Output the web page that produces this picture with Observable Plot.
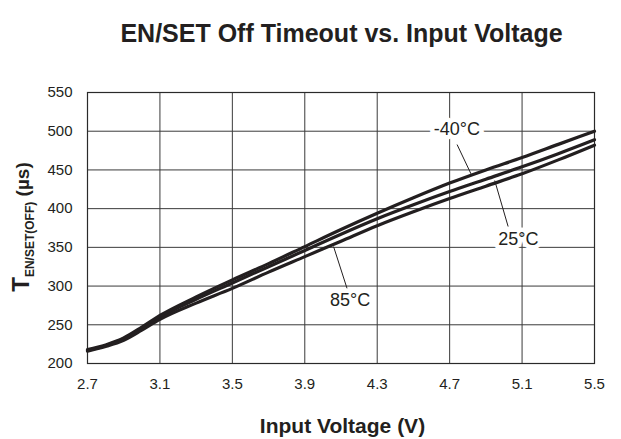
<!DOCTYPE html>
<html>
<head>
<meta charset="utf-8">
<script src="https://cdn.jsdelivr.net/npm/d3@7"></script>
<script src="https://cdn.jsdelivr.net/npm/@observablehq/plot@0.6"></script>
<style>
  html, body { margin: 0; padding: 0; background: #fff; }
  #wrap { position: relative; width: 621px; height: 439px; overflow: hidden; font-family: "Liberation Sans", Arial, sans-serif; color: #231f20; }
  #title { position: absolute; left: 0; width: 621px; top: 18px; text-align: center; padding-left: 62px; box-sizing: border-box; font-weight: bold; font-size: 25px; line-height: 30px; }
  #chart { position: absolute; left: 0; top: 70px; }
  #xlabel { position: absolute; left: 0; width: 621px; top: 413px; text-align: center; padding-left: 64px; box-sizing: border-box; font-weight: bold; font-size: 21px; line-height: 26px; }
  #ylabel { position: absolute; left: 25px; top: 227px; transform: translate(-50%, -50%) rotate(-90deg); white-space: nowrap; font-weight: bold; font-size: 19px; line-height: 24px; }
  #ylabel .t { font-size: 24px; }
  #ylabel sub { font-size: 12px; vertical-align: -5px; }
</style>
</head>
<body>
<div id="wrap">
  <div id="title">EN/SET Off Timeout vs. Input Voltage</div>
  <div id="chart"></div>
  <div id="xlabel">Input Voltage (V)</div>
  <div id="ylabel"><span class="t">T</span><sub>EN/SET(OFF)</sub> (µs)</div>
</div>
<script>
// Data
const voltage  = [2.7, 2.8, 2.9, 3.0, 3.1, 3.3, 3.5, 3.7, 3.9, 4.1, 4.3, 4.5, 4.7, 4.9, 5.1, 5.3, 5.5];
const tMinus40 = [218, 224, 233, 247, 262, 286, 308, 329, 351, 373, 394, 414, 433, 450, 466, 483, 500];
const t25      = [217, 223, 232, 245, 260, 283, 304, 325, 346, 367, 387, 405, 422, 438, 454, 471, 489];
const t85      = [216, 222, 230, 243, 257, 278, 297, 318, 338, 358, 378, 396, 413, 429, 445, 463, 482];
const seriesNames = ["-40°C", "25°C", "85°C"];
const xTicks = [2.7, 3.1, 3.5, 3.9, 4.3, 4.7, 5.1, 5.5];
const yTicks = [200, 250, 300, 350, 400, 450, 500, 550];

// Callout labels and their leader lines (data coordinates)
const labelText = ["-40°C", "25°C", "85°C"];
const labelX = [4.74, 5.08, 4.15];
const labelY = [502, 361, 282];
const leaderX1 = [4.741, 4.949, 4.059];
const leaderY1 = [482.8, 436.3, 351];
const leaderX2 = [4.818, 5.023, 4.134];
const leaderY2 = [444.9, 376.9, 296.5];

const seriesValues = [tMinus40, t25, t85];
const data = seriesNames.flatMap((name, i) =>
  voltage.map((v, j) => ({ v, t: seriesValues[i][j], series: name })));
const labels = labelText.map((text, i) => ({ text, x: labelX[i], y: labelY[i] }));
const leaders = labelText.map((text, i) => ({ x1: leaderX1[i], y1: leaderY1[i], x2: leaderX2[i], y2: leaderY2[i] }));

const chart = Plot.plot({
  width: 621,
  height: 369,
  marginTop: 22,
  marginBottom: 76,
  marginLeft: 87,
  marginRight: 27,
  style: { fontFamily: "'Liberation Sans', Arial, sans-serif", fontSize: "15px", color: "#231f20", background: "white", overflow: "visible" },
  x: { domain: [2.7, 5.5] },
  y: { domain: [200, 550] },
  marks: [
    Plot.gridX(xTicks, { stroke: "#3a3a3a", strokeOpacity: 1, strokeWidth: 1 }),
    Plot.gridY(yTicks, { stroke: "#3a3a3a", strokeOpacity: 1, strokeWidth: 1 }),
    Plot.frame({ stroke: "#2a2a2a", strokeWidth: 1.2 }),
    Plot.axisX(xTicks, { tickSize: 0, tickPadding: 15, label: null, tickFormat: d => d.toFixed(1), fontSize: 15 }),
    Plot.axisY(yTicks, { tickSize: 0, tickPadding: 15, label: null, fontSize: 15 }),
    Plot.link(leaders, { x1: "x1", y1: "y1", x2: "x2", y2: "y2", stroke: "#231f20", strokeWidth: 1 }),
    Plot.text(labels, { x: "x", y: "y", text: "text", fontSize: 18, fill: "#231f20", stroke: "white", strokeWidth: 9 }),
    Plot.line(data, { x: "v", y: "t", z: "series", stroke: "#231f20", strokeWidth: 3.2, curve: "monotone-x" })
  ]
});
document.getElementById("chart").appendChild(chart);
</script>
</body>
</html>
